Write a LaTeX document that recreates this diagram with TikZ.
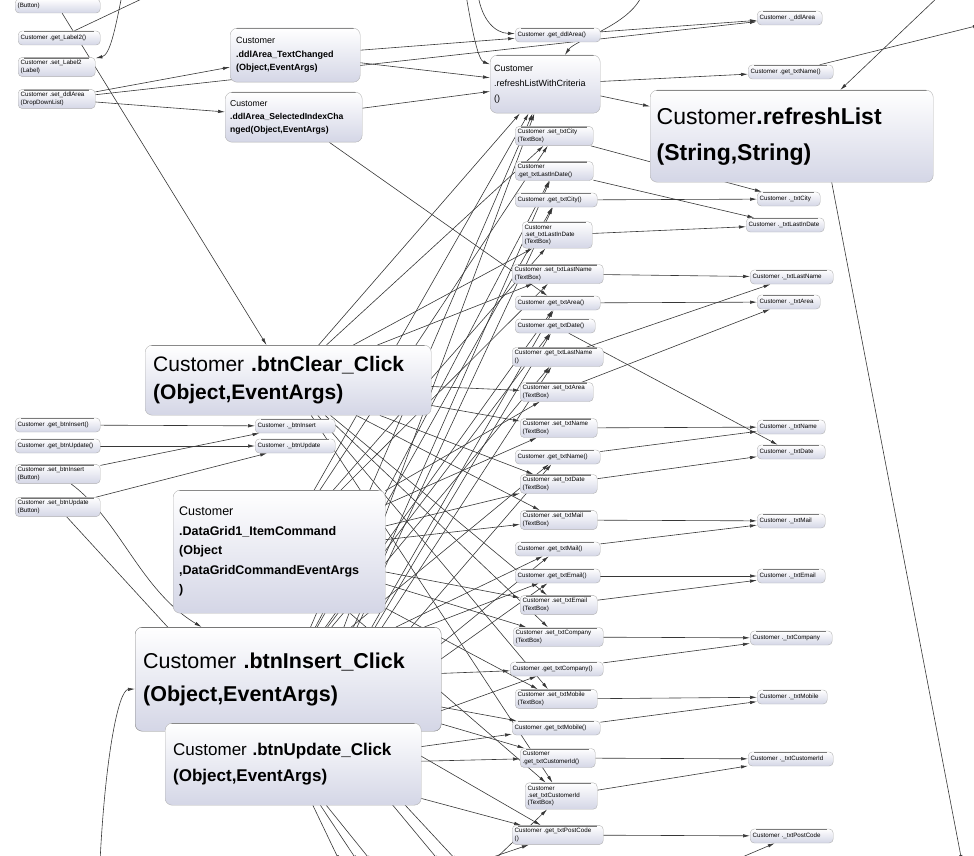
\documentclass[tikz,border=0pt]{standalone}
\usepackage{fontspec}
\setmainfont{Liberation Sans}
\usetikzlibrary{arrows.meta,backgrounds}
\definecolor{nodebg}{RGB}{212,214,230}
\definecolor{edgecol}{RGB}{55,55,55}
\tikzset{
 topline/.style={path picture={\draw[black!55,line width=1.2pt]
   ([xshift=6pt,yshift=-0.6pt]path picture bounding box.north west) --
   ([xshift=-6pt,yshift=-0.6pt]path picture bounding box.north east);}},
 mnode/.style={draw=black!30,rounded corners=4pt,top color=white,bottom color=nodebg,
   topline,anchor=west,align=left,inner xsep=2.5pt,inner ysep=3pt,minimum height=14pt,
   font=\fontsize{6.2}{7.4}\selectfont},
 bignode/.style={draw=black!30,rounded corners=7pt,top color=white,bottom color=nodebg,
   topline,anchor=north west,align=left,inner xsep=8pt,inner ysep=0pt},
 dep/.style={->,edgecol,line width=0.6pt},
}
\begin{document}
\begin{tikzpicture}[x=1pt,y=-1pt,>={Latex[length=7pt,width=3.4pt]}]
\useasboundingbox (0,0) rectangle (974,856);
% small method and field nodes: name/left/centre y/width/text
\foreach \n/\x/\y/\w/\t in {
 cutBtn/15/6/85/{(Button)},
 gLbl/18/38/82/{Customer .get\_Label2()},
 sLbl/18/67/77/{Customer .set\_Label2\\(Label)},
 sDdl/18/99/77/{Customer .set\_ddlArea\\(DropDownList)},
 gBtnIns/15/425/85/{Customer .get\_btnInsert()},
 gBtnUpd/15/446/85/{Customer .get\_btnUpdate()},
 sBtnIns/15/474/85/{Customer .set\_btnInsert\\(Button)},
 sBtnUpd/15/507/85/{Customer .set\_btnUpdate\\(Button)},
 fBtnIns/255/426/80/{Customer .\_btnInsert},
 fBtnUpd/255/446/80/{Customer .\_btnUpdate},
 gDdl/515/35/85/{Customer .get\_ddlArea()},
 sCity/515/136/78/{Customer .set\_txtCity\\(TextBox)},
 gLid/515/171/78/{Customer\\.get\_txtLastInDate()},
 gCity/515/200/82/{Customer .get\_txtCity()},
 sLid/522/235/70/{Customer\\.set\_txtLastInDate\\(TextBox)},
 sLn/512/274/91/{Customer .set\_txtLastName\\(TextBox)},
 gArea/515/303/85/{Customer .get\_txtArea()},
 gDate/515/326/80/{Customer .get\_txtDate()},
 gLn/512/357/91/{Customer .get\_txtLastName\\()},
 sArea/520/392/73/{Customer .set\_txtArea\\(TextBox)},
 sName/520/428/77/{Customer .set\_txtName\\(TextBox)},
 gName/515/457/85/{Customer .get\_txtName()},
 sDate/520/484/77/{Customer .set\_txtDate\\(TextBox)},
 sMail/520/520/77/{Customer .set\_txtMail\\(TextBox)},
 gMail/515/549/85/{Customer .get\_txtMail()},
 gEmail/515/576/85/{Customer .get\_txtEmail()},
 sEmail/520/605/77/{Customer .set\_txtEmail\\(TextBox)},
 sComp/513/637/90/{Customer .set\_txtCompany\\(TextBox)},
 gComp/510/669/93/{Customer .get\_txtCompany()},
 sMob/515/699/82/{Customer .set\_txtMobile\\(TextBox)},
 gMob/512/728/88/{Customer .get\_txtMobile()},
 gCid/520/758/75/{Customer\\.get\_txtCustomerId()},
 sCid/525/796/72/{Customer\\.set\_txtCustomerId\\(TextBox)},
 gPc/512/835/91/{Customer .get\_txtPostCode\\()},
 fDdl/757/18/65/{Customer .\_ddlArea},
 gName2/748/72/85/{Customer .get\_txtName()},
 fCity/757/199/63/{Customer .\_txtCity},
 fLid/746/225/78/{Customer .\_txtLastInDate},
 fLn/750/277/83/{Customer .\_txtLastName},
 fArea/757/302/63/{Customer .\_txtArea},
 fName/757/427/68/{Customer .\_txtName},
 fDate/757/452/68/{Customer .\_txtDate},
 fMail/757/521/68/{Customer .\_txtMail},
 fEmail/757/576/68/{Customer .\_txtEmail},
 fComp/750/638/82/{Customer .\_txtCompany},
 fMob/757/697/70/{Customer .\_txtMobile},
 fCid/748/759/85/{Customer .\_txtCustomerId},
 fPc/750/836/83/{Customer .\_txtPostCode}}{
 \pgfmathsetmacro{\tw}{\w-5}
 \node[mnode,minimum width=\w pt,text width=\tw pt] (\n) at (\x,\y) {\t};
}
% event handlers
\node[bignode,minimum width=130pt,minimum height=54pt,text width=118pt,inner xsep=6pt,
 font=\fontsize{9}{13.5}\selectfont] (tcDdl) at (230,28)
 {Customer\\\textbf{.ddlArea\_TextChanged}\\\textbf{(Object,EventArgs)}};
\node[bignode,minimum width=137pt,minimum height=50pt,text width=127pt,inner xsep=5pt,
 font=\fontsize{8.6}{13}\selectfont] (sicDdl) at (225,92)
 {Customer\\\textbf{.ddlArea\_SelectedIndexCha}\\\textbf{nged(Object,EventArgs)}};
\node[bignode,minimum width=110pt,minimum height=58pt,text width=102pt,inner xsep=4pt,
 font=\fontsize{9}{15}\selectfont] (refreshCrit) at (490,55)
 {Customer\\.refreshListWithCriteria\\()};
\node[bignode,minimum width=283pt,minimum height=92pt,text width=270pt,inner xsep=6pt,
 font=\fontsize{23}{36}\selectfont] (refreshList) at (650,90)
 {Customer\textbf{.refreshList}\\\textbf{(String,String)}};
\node[bignode,minimum width=285pt,minimum height=70pt,text width=270pt,
 font=\fontsize{21}{28}\selectfont] (btnClear) at (145,345)
 {Customer \textbf{.btnClear\_Click}\\\textbf{(Object,EventArgs)}};
\node[bignode,minimum width=212pt,minimum height=123pt,text width=200pt,inner xsep=6pt,
 font=\fontsize{12.5}{19.5}\selectfont] (dataGrid) at (173,490)
 {Customer\\\textbf{.DataGrid1\_ItemCommand}\\\textbf{(Object}\\\textbf{,DataGridCommandEventArgs}\\\textbf{)}};
\node[bignode,minimum width=305pt,minimum height=104pt,text width=290pt,
 font=\fontsize{21.5}{33}\selectfont,draw=black!50] (btnInsert) at (135,627)
 {Customer \textbf{.btnInsert\_Click}\\\textbf{(Object,EventArgs)}};
\node[bignode,minimum width=255pt,minimum height=82pt,text width=240pt,
 font=\fontsize{17}{26}\selectfont] (btnUpdate) at (165,723)
 {Customer \textbf{.btnUpdate\_Click}\\\textbf{(Object,EventArgs)}};
% ends of connectors that leave the picture
\coordinate (offTL) at (150,-5);
\coordinate (offTL2) at (122,-5);
\coordinate (offT1) at (478,-5);
\coordinate (offT2) at (466,-5);
\coordinate (offT3) at (642,-5);
\coordinate (offTR) at (940,-5);
\coordinate (offTR2) at (980,25);
\coordinate (offBR) at (962,862);
\coordinate (offBL) at (100,862);
\coordinate (offB1) at (340,862);
\coordinate (offB2) at (358,862);
\coordinate (offB3) at (372,862);
\coordinate (offB4) at (440,862);
\coordinate (offB5) at (458,862);
\coordinate (offBM) at (478,862);
\coordinate (offBM2) at (492,862);
\coordinate (offPc) at (700,875);
\begin{pgfonlayer}{background}
\foreach \s/\t in {cutBtn/btnClear,sDdl/tcDdl,sDdl/sicDdl,sDdl/fDdl,tcDdl/gDdl,
 tcDdl/refreshCrit,sicDdl/refreshCrit,sicDdl/gArea,gDdl/fDdl,refreshCrit/gName2,
 refreshCrit/refreshList,offTR/refreshList,gName2/offTR2,gLbl/offTL,
 sCity/fCity,gCity/fCity,gLid/fLid,sLid/fLid,sLn/fLn,gLn/fLn,gArea/fArea,sArea/fArea,
 sName/fName,gName/fName,gDate/fDate,sDate/fDate,sMail/fMail,gMail/fMail,
 gEmail/fEmail,sEmail/fEmail,sComp/fComp,gComp/fComp,sMob/fMob,gMob/fMob,
 gCid/fCid,sCid/fCid,gPc/fPc,offPc/fPc,
 gBtnIns/fBtnIns,gBtnUpd/fBtnUpd,sBtnIns/fBtnIns,sBtnUpd/fBtnUpd,sBtnUpd/btnUpdate,
 btnUpdate/offB1,btnUpdate/offB2,btnUpdate/offB3,btnInsert/offB4,btnInsert/offB5,
 offBM/gPc,offBM2/sCid}
 \draw[dep] (\s) -- (\t);
\foreach \t in {refreshCrit,sCity,sLid,sLn,sArea,sName,sDate,sMail,sEmail,sComp,sMob,sCid}{
 \draw[dep] (btnClear) -- (\t);
 \draw[dep] (dataGrid) -- (\t);
}
\foreach \t in {refreshCrit,gCity,gLid,gArea,gDate,gLn,gName,gMail,gEmail,gComp,gMob,gCid,gPc}{
 \draw[dep] (btnInsert) -- (\t);
 \draw[dep] (btnUpdate) -- (\t);
}
\draw[dep] (offT1) .. controls (482,20) and (495,33) .. (gDdl);
\draw[dep] (offT2) .. controls (472,30) and (478,60) .. (refreshCrit);
\draw[dep] (offT3) .. controls (630,25) and (575,40) .. (refreshCrit);
\draw[dep] (offTL2) .. controls (115,30) and (110,55) .. (sLbl);
\draw[dep] (sBtnIns) .. controls (120,520) and (140,590) .. (btnInsert);
\draw[dep] (offBL) .. controls (105,760) and (118,690) .. (btnInsert);
\draw[dep] ([xshift=40pt]refreshList.south) -- (offBR);
\end{pgfonlayer}
\end{tikzpicture}
\end{document}
